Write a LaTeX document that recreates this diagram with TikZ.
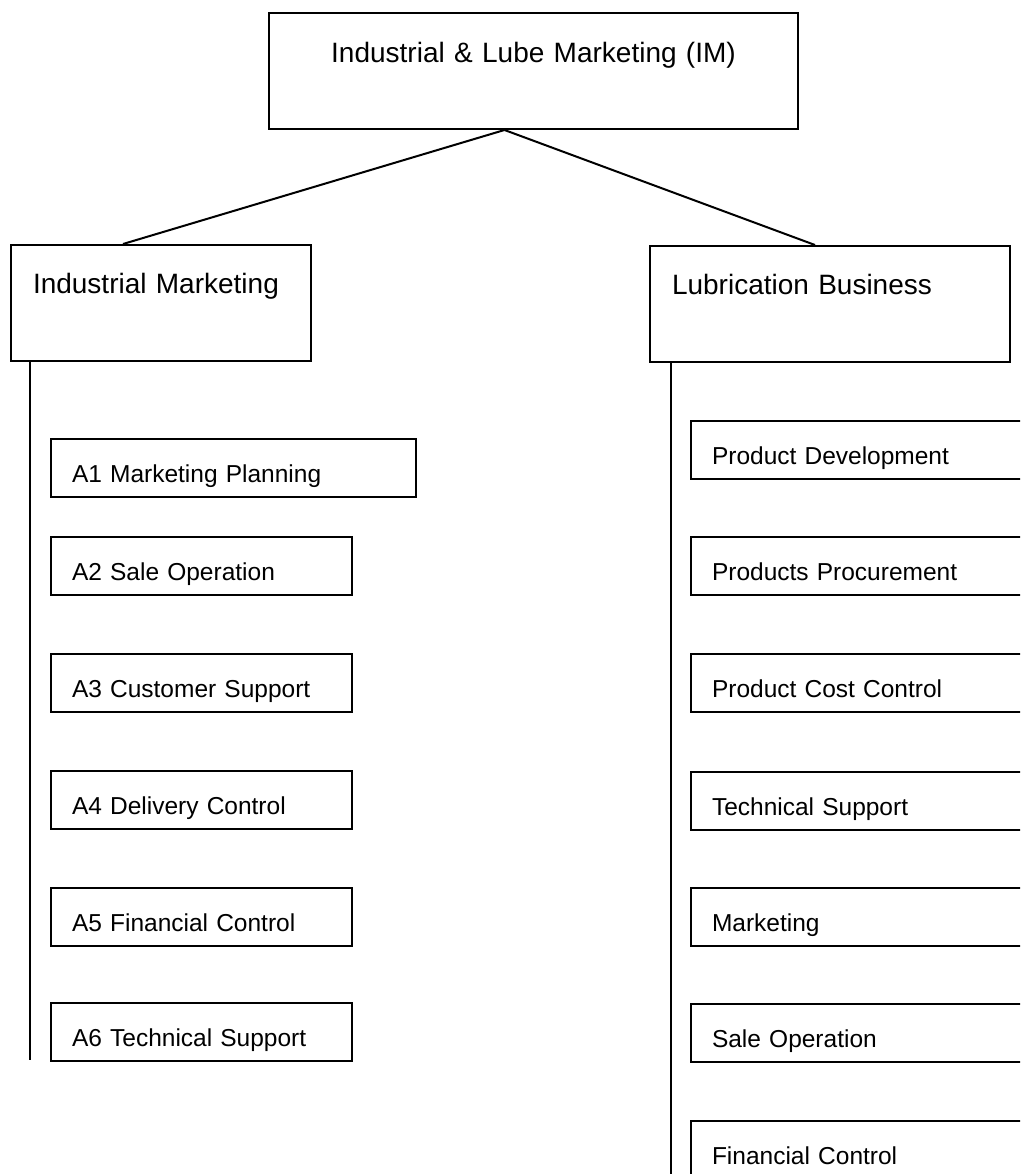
\documentclass[tikz,border=0pt]{standalone}
\usepackage{fontspec}
\setmainfont{Liberation Sans}
\begin{document}
\begin{tikzpicture}[x=1pt,y=-1pt,
  box/.style={draw, line width=2pt, rectangle, inner ysep=0pt, anchor=north west},
  topbox/.style={box, font=\fontsize{28}{34}\selectfont, text height=50pt, text depth=66pt, inner xsep=22pt, align=center},
  head/.style={box, font=\fontsize{28}{34}\selectfont, text height=48pt, text depth=68pt, inner xsep=22pt, align=left},
  item/.style={box, font=\fontsize{24.5}{30}\selectfont, text height=43pt, text depth=15pt, inner xsep=21pt, align=left},
  link/.style={line width=2pt}]
\useasboundingbox (0,0) rectangle (1020,1174);
\clip (0,0) rectangle (1020,1174);
\fill[white] (0,0) rectangle (1020,1174);

\node[topbox, text width=485pt] (top) at (268,12) {Industrial \& Lube Marketing (IM)};
\node[head, text width=256pt] (imk) at (10,244) {Industrial Marketing};
\node[head, text width=316pt] (lub) at (649,245) {Lubrication Business};

\node[item, text width=323pt] (a1) at (50,438) {A1 Marketing Planning};
\node[item, text width=259pt] (a2) at (50,536) {A2 Sale Operation};
\node[item, text width=259pt] (a3) at (50,653) {A3 Customer Support};
\node[item, text width=259pt] (a4) at (50,770) {A4 Delivery Control};
\node[item, text width=259pt] (a5) at (50,887) {A5 Financial Control};
\node[item, text width=259pt] (a6) at (50,1002) {A6 Technical Support};

\node[item, text width=308pt] (b1) at (690,420) {Product Development};
\node[item, text width=308pt] (b2) at (690,536) {Products Procurement};
\node[item, text width=308pt] (b3) at (690,653) {Product Cost Control};
\node[item, text width=308pt] (b4) at (690,771) {Technical Support};
\node[item, text width=308pt] (b5) at (690,887) {Marketing};
\node[item, text width=308pt] (b6) at (690,1003) {Sale Operation};
\node[item, text width=308pt] (b7) at (690,1120) {Financial Control};

\coordinate (lend) at (30,1060);
\coordinate (rend) at (671,1180);

\draw[link] ([xshift=-29pt]top.south) -- ([xshift=113pt]imk.north west);
\draw[link] ([xshift=-29pt]top.south) -- ([xshift=166pt]lub.north west);
\draw[link] ([xshift=20pt]imk.south west) -- (lend);
\draw[link] ([xshift=22pt]lub.south west) -- (rend);
\end{tikzpicture}
\end{document}
